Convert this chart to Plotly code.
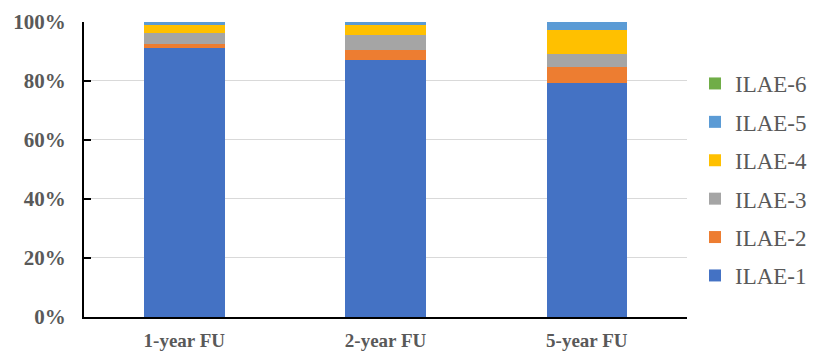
import plotly.graph_objects as go

# Follow-up time points
categories = ["1-year FU", "2-year FU", "5-year FU"]

# Share of patients (%) in each ILAE outcome class
ilae_1 = [91.1, 87.1, 79.2]
ilae_2 = [1.3, 3.4, 5.4]
ilae_3 = [3.8, 5.1, 4.5]
ilae_4 = [2.5, 3.1, 7.9]
ilae_5 = [1.3, 1.3, 3.0]
ilae_6 = [0.0, 0.0, 0.0]

series_names = ["ILAE-1", "ILAE-2", "ILAE-3", "ILAE-4", "ILAE-5", "ILAE-6"]
series_values = [ilae_1, ilae_2, ilae_3, ilae_4, ilae_5, ilae_6]
series_colors = ["#4472C4", "#ED7D31", "#A5A5A5", "#FFC000", "#5B9BD5", "#70AD47"]

tick_vals = [0, 20, 40, 60, 80, 100]
tick_text = ["0%", "20%", "40%", "60%", "80%", "100%"]

W, H = 813, 355

fig = go.Figure()
n = len(series_names)
for i, (name, vals, color) in enumerate(zip(series_names, series_values, series_colors)):
    fig.add_trace(go.Bar(
        x=categories, y=vals, name=name,
        marker=dict(color=color, line=dict(width=0)),
        legendgroup=name,
        legendrank=n - i,  # top of the stack listed first
        hoverinfo="x+y+name",
    ))

fig.update_layout(
    barmode="stack",
    bargap=0.6,
    width=W, height=H,
    margin=dict(l=0, r=0, t=0, b=0, pad=0),
    paper_bgcolor="white",
    plot_bgcolor="white",
    font=dict(family="Liberation Serif", color="#595959"),
    legend=dict(
        traceorder="grouped",
        x=698 / W, xanchor="left",
        y=1 - 179.5 / H, yanchor="middle",
        font=dict(family="Liberation Serif", size=23, color="#595959"),
        tracegroupgap=5.5,
        itemwidth=30,
        bgcolor="rgba(0,0,0,0)",
    ),
    showlegend=True,
)

fig.update_yaxes(
    domain=[1 - 317 / H, 1 - 21.5 / H],
    automargin=False,
    range=[0, 100],
    tickvals=tick_vals, ticktext=tick_text,
    tickfont=dict(family="Liberation Serif", size=21, color="#595959", weight="bold"),
    showgrid=True, gridcolor="#D9D9D9", gridwidth=1,
    showline=True, linecolor="black", linewidth=1.5,
    ticks="inside", ticklen=8, tickcolor="black", tickwidth=1.5,
    ticklabelstandoff=12,
    zeroline=False,
)

fig.update_xaxes(
    domain=[84 / W, 690 / W],
    automargin=False,
    tickfont=dict(family="Liberation Serif", size=19, color="#595959", weight="bold"),
    showline=True, linecolor="black", linewidth=1.5,
    ticks="", ticklabelstandoff=5,
    showgrid=False,
)

fig.write_html("out.html")
